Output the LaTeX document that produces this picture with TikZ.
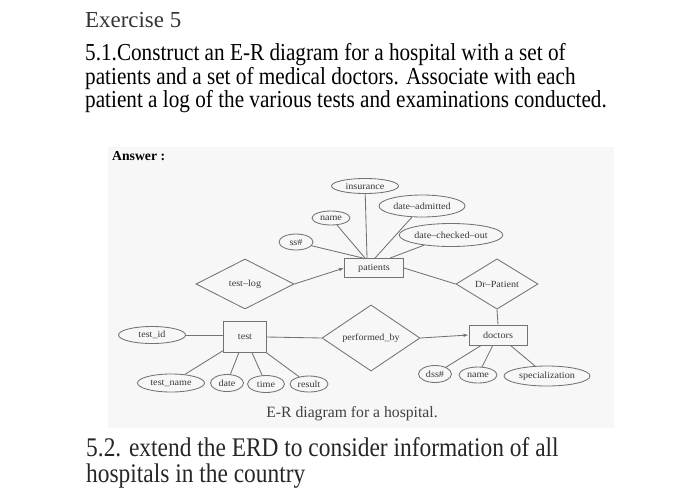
\documentclass[tikz,border=0pt]{standalone}
\usepackage{fontspec}
\setmainfont{Liberation Serif}
\newfontfamily\dfont[FakeStretch=1.08]{Liberation Serif}
\usetikzlibrary{shapes.geometric,arrows.meta}
\begin{document}
\begin{tikzpicture}[x=1pt,y=-1pt,
  base/.style={draw=black!55, line width=0.85pt, inner sep=0pt, text=black!78,
    font=\dfont\fontsize{9.4}{10}\selectfont},
  ent/.style={base, rectangle},
  att/.style={base, ellipse},
  rel/.style={base, diamond},
  conn/.style={draw=black!55, line width=0.85pt},
  arr/.style={conn, -{Latex[length=5pt,width=3.5pt]}},
  big/.style={anchor=base west, inner sep=0pt}
]
\useasboundingbox (0,0) rectangle (700,501);
\fill[black!3] (108,147) rectangle (614,428);

% header text
\node[big, text=black!80, font=\fontsize{22.9}{24}\selectfont] (title) at (85,27) {Exercise 5};
\node[big, font=\fontsize{21.2}{24}\selectfont] (l1) at (85,60) {\scalebox{1}[1.15]{5.1.Construct an E-R diagram for a hospital with a set of}};
\node[big, font=\fontsize{21.2}{24}\selectfont] (l2) at (85,84) {\scalebox{1}[1.15]{patients and a set of medical doctors. Associate with each}};
\node[big, font=\fontsize{21.2}{24}\selectfont] (l3) at (85,107) {\scalebox{1}[1.15]{patient a log of the various tests and examinations conducted.}};
\node[big, font=\bfseries\fontsize{13.7}{15}\selectfont] (ans) at (112,160) {Answer :};

% diagram nodes
\node[att, minimum width=67pt, minimum height=15pt] (ins) at (365,186) {insurance};
\node[att, minimum width=86pt, minimum height=22pt] (dadm) at (422,206) {date–admitted};
\node[att, minimum width=38pt, minimum height=14pt] (pname) at (331,218) {name};
\node[att, minimum width=85pt, minimum height=23pt] (dco) at (451,235) {date–checked–out};
\node[att, minimum width=34pt, minimum height=16pt] (ss) at (296,242) {ss\#};
\node[ent, minimum width=59pt, minimum height=19pt] (pat) at (374,268) {patients};
\node[rel, minimum width=98pt, minimum height=50pt] (tlog) at (245,284) {test–log};
\node[rel, minimum width=82pt, minimum height=41pt] (drp) at (497,284) {Dr–Patient};
\node[ent, minimum width=43pt, minimum height=31pt] (test) at (245,337) {test};
\node[att, minimum width=67pt, minimum height=17pt] (tid) at (152,335) {test\_id};
\node[rel, minimum width=98pt, minimum height=51pt] (perf) at (371,338) {performed\_by};
\node[ent, minimum width=58pt, minimum height=20pt] (doc) at (498,335) {doctors};
\node[att, minimum width=67pt, minimum height=18pt] (tname) at (171,383) {test\_name};
\node[att, minimum width=33pt, minimum height=17pt] (date) at (227,383) {date};
\node[att, minimum width=37pt, minimum height=17pt] (time) at (266,384) {time};
\node[att, minimum width=38pt, minimum height=16pt] (res) at (309,384) {result};
\node[att, minimum width=33pt, minimum height=17pt] (dss) at (435,374) {dss\#};
\node[att, minimum width=38pt, minimum height=16pt] (dname) at (478,375) {name};
\node[att, minimum width=86pt, minimum height=20pt] (spec) at (547,376) {specialization};

% connectors
\draw[conn] (ss) -- ([xshift=-11pt]pat.north);
\draw[conn] (pname) -- ([xshift=-9pt]pat.north);
\draw[conn] (ins) -- ([xshift=-7pt]pat.north);
\draw[conn] (dadm) -- ([xshift=1pt]pat.north);
\draw[conn] (dco) -- ([xshift=16pt]pat.north);
\draw[arr] (tlog.east) -- (pat.west);
\draw[conn] (pat.east) -- (drp.west);
\draw[conn] (drp.south) -- (doc.north);
\draw[conn, double=black!3, double distance=1.6pt, line width=0.6pt] (tlog.south) -- (test.north);
\draw[conn] (tid.east) -- (tid.east -| test.west);
\draw[conn] (test.east) -- (perf.west);
\draw[arr] (perf.east) -- (doc.west);
\draw[conn] (test) -- (tname);
\draw[conn] (test) -- (date);
\draw[conn] (test) -- (time);
\draw[conn] (test) -- (res);
\draw[conn] (doc) -- (dss);
\draw[conn] (doc) -- (dname);
\draw[conn] (doc) -- (spec);

% caption
\node[anchor=base, inner sep=0pt, text=black!75, font=\fontsize{15.7}{17}\selectfont] (cap) at (352,417) {E-R diagram for a hospital.};

% bottom text
\node[big, text=black!85, font=\fontsize{23.4}{26}\selectfont] (b1) at (86,456) {\scalebox{1}[1.15]{5.2. extend the ERD to consider information of all}};
\node[big, text=black!85, font=\fontsize{23.4}{26}\selectfont] (b2) at (86,482) {\scalebox{1}[1.15]{hospitals in the country}};
\end{tikzpicture}
\end{document}
